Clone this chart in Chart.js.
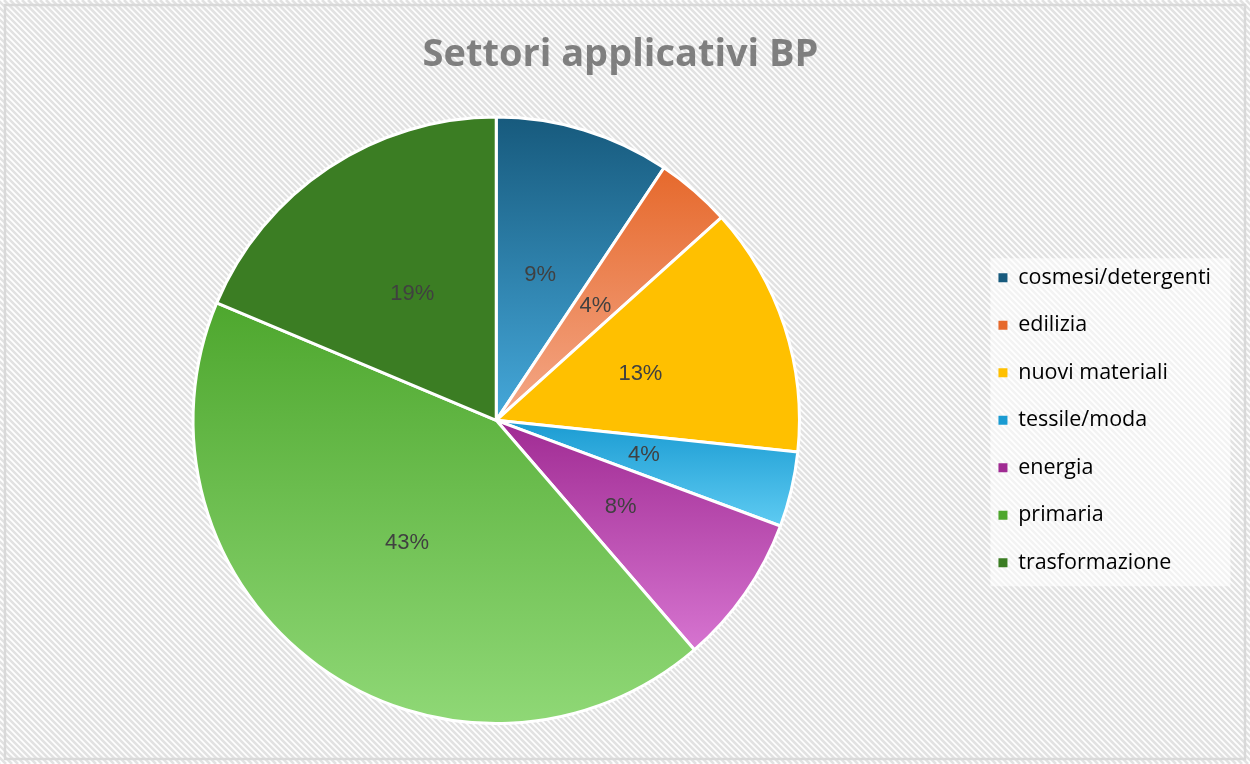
<!DOCTYPE html>
<html>
<head>
<meta charset="utf-8">
<script src="https://cdn.jsdelivr.net/npm/chart.js@4.4.1/dist/chart.umd.min.js"></script>
<style>
  html, body { margin: 0; padding: 0; background: #ffffff; }
  #wrap { width: 1250px; height: 764px; }
</style>
</head>
<body>
<div id="wrap"><canvas id="pieChart" width="1250" height="764"></canvas></div>
<script>
// data (counts, 75 in total)
const sectors = ['cosmesi/detergenti', 'edilizia', 'nuovi materiali', 'tessile/moda', 'energia', 'primaria', 'trasformazione'];
const counts = [7, 3, 10, 3, 6, 32, 14];
const topColors = ['#175a7d', '#e6692c', '#ffc000', '#1a9bd2', '#a02b93', '#4ea72e', '#3b7d23'];
const bottomColors = ['#45a8da', '#f4a888', '#ffc000', '#5ecbf2', '#d674d0', '#8fd876', '#3b7d23'];

const total = counts.reduce((a, b) => a + b, 0);

// striped background, outer frame and the pale box behind the legend
const backdropPlugin = {
    id: 'backdrop',
    beforeDraw(chart) {
        const { ctx, width, height } = chart;
        ctx.save();
        ctx.fillStyle = '#ffffff';
        ctx.fillRect(0, 0, width, height);

        ctx.strokeStyle = '#e2e2e2';
        ctx.lineWidth = 2.6;
        for (let x = -height; x < width + height; x += 6) {
            ctx.beginPath();
            ctx.moveTo(x, 0);
            ctx.lineTo(x + height, height);
            ctx.stroke();
        }

        const lg = chart.legend;
        if (lg) {
            const cy = (lg.top + lg.bottom) / 2;
            ctx.fillStyle = 'rgba(255,255,255,0.6)';
            ctx.fillRect(lg.left + 18, cy - 162, 240, 328);
        }

        ctx.strokeStyle = '#d9d9d9';
        ctx.lineWidth = 2.5;
        ctx.strokeRect(5, 5, width - 10, height - 10);
        ctx.restore();
    }
};

// vertical gradient per slice, spanning that slice's own height
const gradientPlugin = {
    id: 'sliceGradient',
    beforeDatasetsDraw(chart) {
        const ctx = chart.ctx;
        const meta = chart.getDatasetMeta(0);
        meta.data.forEach((arc, i) => {
            const { x, y, startAngle, endAngle, outerRadius } = arc.getProps(['x', 'y', 'startAngle', 'endAngle', 'outerRadius'], true);
            let ys = [y, y + Math.sin(startAngle) * outerRadius, y + Math.sin(endAngle) * outerRadius];
            [-Math.PI / 2, Math.PI / 2, 3 * Math.PI / 2].forEach(a => {
                if (a > startAngle && a < endAngle) ys.push(y + Math.sin(a) * outerRadius);
            });
            const top = Math.min(...ys), bottom = Math.max(...ys);
            const g = ctx.createLinearGradient(0, top, 0, bottom);
            g.addColorStop(0, topColors[i]);
            g.addColorStop(1, bottomColors[i]);
            arc.options.backgroundColor = g;
        });
    }
};

// percentage labels at half radius
const percentPlugin = {
    id: 'percentLabels',
    afterDatasetsDraw(chart) {
        const ctx = chart.ctx;
        const meta = chart.getDatasetMeta(0);
        ctx.save();
        ctx.font = '22px "Liberation Sans", Arial, sans-serif';
        ctx.fillStyle = '#404040';
        ctx.textAlign = 'center';
        ctx.textBaseline = 'middle';
        meta.data.forEach((arc, i) => {
            const p = arc.tooltipPosition();
            ctx.fillText(Math.round(counts[i] / total * 100) + '%', p.x, p.y);
        });
        ctx.restore();
    }
};

new Chart(document.getElementById('pieChart'), {
    type: 'pie',
    data: {
        labels: sectors,
        datasets: [{
            data: counts,
            backgroundColor: topColors,
            borderColor: '#ffffff',
            borderWidth: 3
        }]
    },
    options: {
        responsive: false,
        animation: false,
        devicePixelRatio: 1,
        layout: { padding: { left: 20, right: 29, top: 0, bottom: 39 } },
        plugins: {
            title: {
                display: true,
                text: 'Settori applicativi BP',
                color: '#7f7f7f',
                font: { family: '"Open Sans", sans-serif', size: 38, weight: 'bold' },
                padding: { top: 32, bottom: 38 }
            },
            legend: {
                position: 'right',
                align: 'center',
                fullSize: false,
                labels: {
                    boxWidth: 9,
                    boxHeight: 9,
                    padding: 26,
                    color: '#595959',
                    font: { family: '"Open Sans", sans-serif', size: 21.5 },
                    generateLabels(chart) {
                        return sectors.map((s, i) => ({
                            text: s,
                            fillStyle: topColors[i],
                            strokeStyle: topColors[i],
                            lineWidth: 0,
                            index: i
                        }));
                    }
                }
            },
            tooltip: { enabled: false }
        }
    },
    plugins: [backdropPlugin, gradientPlugin, percentPlugin]
});
</script>
</body>
</html>
